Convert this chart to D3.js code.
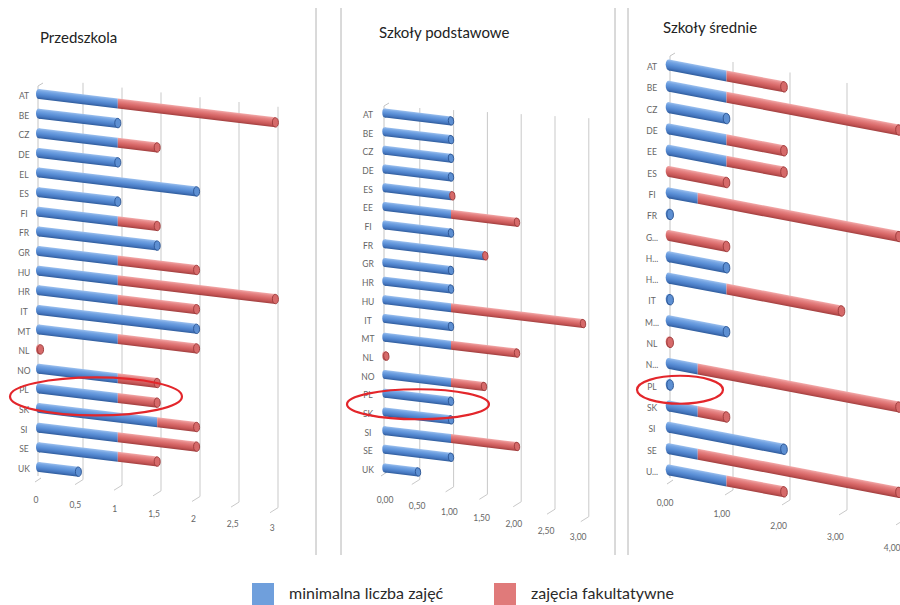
<!DOCTYPE html>
<html lang="pl">
<head>
<meta charset="utf-8">
<script src="https://cdn.jsdelivr.net/npm/d3@7"></script>
<style>
  html, body { margin: 0; padding: 0; background: #fff; }
  svg { display: block; font-family: Lato, "Open Sans", sans-serif; -webkit-font-smoothing: antialiased; }
</style>
</head>
<body>
<svg id="chart" width="900" height="605"></svg>
<script>
// ---- Data: hours per country, two stacked series per school level ----
const seriesNames = ["minimalna liczba zajęć", "zajęcia fakultatywne"];

const preschoolCountries = ["AT","BE","CZ","DE","EL","ES","FI","FR","GR","HU","HR","IT","MT","NL","NO","PL","SK","SI","SE","UK"];
const preschoolMinimum   = [1, 1, 1, 1, 2, 1, 1, 1.5, 1, 1, 1, 2, 1, 0, 1, 1, 1.5, 1, 1, 0.5];
const preschoolOptional  = [2, 0, 0.5, 0, 0, 0, 0.5, 0, 1, 2, 1, 0, 1, 0.02, 0.5, 0.5, 0.5, 1, 0.5, 0];
const preschoolTicks     = [0, 0.5, 1, 1.5, 2, 2.5, 3];
const preschoolTickText  = ["0", "0,5", "1", "1,5", "2", "2,5", "3"];

const primaryCountries = ["AT","BE","CZ","DE","ES","EE","FI","FR","GR","HR","HU","IT","MT","NL","NO","PL","SK","SI","SE","UK"];
const primaryMinimum   = [1, 1, 1, 1, 1, 1, 1, 1.5, 1, 1, 1, 1, 1, 0, 1, 1, 1, 1, 1, 0.5];
const primaryOptional  = [0, 0, 0, 0, 0.02, 1, 0, 0.02, 0, 0, 2, 0, 1, 0.02, 0.5, 0, 0, 1, 0, 0];
const primaryTicks     = [0, 0.5, 1, 1.5, 2, 2.5, 3];
const primaryTickText  = ["0,00", "0,50", "1,00", "1,50", "2,00", "2,50", "3,00"];

const secondaryCountries = ["AT","BE","CZ","DE","EE","ES","FI","FR","G...","H...","H...","IT","M...","NL","N...","PL","SK","SI","SE","U..."];
const secondaryMinimum   = [1, 1, 1, 1, 1, 0, 0.5, 0.02, 0, 1, 1, 0.02, 1, 0, 0.5, 0.02, 0.5, 2, 0.5, 1];
const secondaryOptional  = [1, 3, 0, 1, 1, 1, 3.5, 0, 1, 0, 2, 0, 0, 0.02, 3.5, 0, 0.5, 0, 3.5, 1];
const secondaryTicks     = [0, 1, 2, 3, 4];
const secondaryTickText  = ["0,00", "1,00", "2,00", "3,00", "4,00"];

// Country singled out with a ring in every panel
const highlighted = "PL";

// ---- Layout of the three perspective panels ----
const panels = [
  { title: "Przedszkola", titleX: 40, titleY: 43,
    countries: preschoolCountries, minimum: preschoolMinimum, optional: preschoolOptional,
    ticks: preschoolTicks, tickText: preschoolTickText, gridFrom: 0.5,
    x0: 39, unit: 78.8, rowY0: 94, rowY1: 467, slope: 0.12, h: 10, labelX: 24,
    gx0: 44, gunit: 78, gTop0: 78, gTopSlope: 0.123, gBot0: 474, gBotSlope: 0.144,
    wallX: 38, wallTop: 83, wallBot: 476,
    tx0: 36, tunit: 78.7, ty0: 500, tSlope: 0.12,
    ring: { cx: 96, dy: 8, rx: 86, ry: 19 } },
  { title: "Szkoły podstawowe", titleX: 379, titleY: 38,
    countries: primaryCountries, minimum: primaryMinimum, optional: primaryOptional,
    ticks: primaryTicks, tickText: primaryTickText, gridFrom: 0.5,
    x0: 385, unit: 66, rowY0: 113, rowY1: 468, slope: 0.12, h: 9, labelX: 368,
    gx0: 386, gunit: 67.6, gTop0: 106, gTopSlope: 0.06, gBot0: 472, gBotSlope: 0.22,
    wallX: 384, wallTop: 103, wallBot: 470,
    tx0: 385, tunit: 64.4, ty0: 500, tSlope: 0.19,
    ring: { cx: 418, dy: 11, rx: 71, ry: 15 } },
  { title: "Szkoły średnie", titleX: 663, titleY: 33,
    countries: secondaryCountries, minimum: secondaryMinimum, optional: secondaryOptional,
    ticks: secondaryTicks, tickText: secondaryTickText, gridFrom: 1,
    x0: 669, unit: 57.5, rowY0: 65, rowY1: 470, slope: 0.19, h: 11, labelX: 652,
    gx0: 676, gunit: 57, gTop0: 51.5, gTopSlope: 0.184, gBot0: 480, gBotSlope: 0.175,
    wallX: 670, wallTop: 53, wallBot: 478,
    tx0: 665, tunit: 56.8, ty0: 503, tSlope: 0.2,
    ring: { cx: 680, dy: 5, rx: 43, ry: 14 } }
];

const svg = d3.select("#chart");
const defs = svg.append("defs");

// Cylinder shading: vertical gradient across the bar thickness
const palettes = {
  blue: { stops: ["#9cc0ee", "#74a4e3", "#5a8fd6", "#4677bf", "#2f5c9c"], cap: "#5d8fd2", rim: "#2c5593" },
  red:  { stops: ["#f2aaaa", "#e68585", "#d96a6a", "#c45555", "#a13f3f"], cap: "#d66a6a", rim: "#9c3b3b" }
};
Object.entries(palettes).forEach(([name, p]) => {
  const g = defs.append("linearGradient").attr("id", "cyl-" + name)
    .attr("x1", 0).attr("y1", 0).attr("x2", 0).attr("y2", 1);
  [0, 0.22, 0.5, 0.78, 1].forEach((o, i) =>
    g.append("stop").attr("offset", o).attr("stop-color", p.stops[i]));
});
const seriesColor = d3.scaleOrdinal().domain(seriesNames).range(["blue", "red"]);

// Panel separators
[[316, 341], [615, 628]].forEach(pair => pair.forEach(x =>
  svg.append("line").attr("x1", x).attr("x2", x).attr("y1", 8).attr("y2", 555)
    .attr("stroke", "#b4b4b4").attr("stroke-width", 1)));

const deg = s => Math.atan(s) * 180 / Math.PI;

panels.forEach(p => {
  const g = svg.append("g");

  const x = d3.scaleLinear().domain([0, 1]).range([p.x0, p.x0 + p.unit]);
  const gx = d3.scaleLinear().domain([0, 1]).range([p.gx0, p.gx0 + p.gunit]);
  const tx = d3.scaleLinear().domain([0, 1]).range([p.tx0, p.tx0 + p.tunit]);
  // rows are keyed by position, since some truncated labels repeat
  const y = d3.scalePoint().domain(d3.range(p.countries.length)).range([p.rowY0, p.rowY1]);

  // title
  g.append("text").attr("x", p.titleX).attr("y", p.titleY)
    .attr("font-size", 15).attr("fill", "#222").text(p.title);

  // back-wall gridlines with floor ticks
  const gridVals = p.ticks.filter(v => v >= p.gridFrom);
  gridVals.forEach(v => {
    const xv = gx(v);
    const top = p.gTop0 + p.gTopSlope * (xv - p.gx0);
    const bot = p.gBot0 + p.gBotSlope * (xv - p.gx0);
    g.append("line").attr("x1", xv).attr("x2", xv).attr("y1", top).attr("y2", bot)
      .attr("stroke", "#c9c9c9").attr("stroke-width", 1);
    g.append("line").attr("x1", xv).attr("y1", bot).attr("x2", xv - 8).attr("y2", bot + 5)
      .attr("stroke", "#c9c9c9").attr("stroke-width", 1);
  });

  // side wall at zero
  g.append("path")
    .attr("d", `M${p.wallX},${p.wallBot} L${p.wallX},${p.wallTop + 3} L${p.wallX + 5},${p.wallTop}`)
    .attr("fill", "none").attr("stroke", "#c4c4c4").attr("stroke-width", 1);
  g.append("line").attr("x1", p.wallX + 3).attr("y1", p.wallBot + 2)
    .attr("x2", p.wallX - 3).attr("y2", p.wallBot + 6)
    .attr("stroke", "#c4c4c4").attr("stroke-width", 1);

  // value tick labels along the sloping floor
  p.ticks.forEach((v, i) => {
    const xv = tx(v);
    g.append("text").attr("x", xv).attr("y", p.ty0 + p.tSlope * (xv - p.tx0) + 3)
      .attr("text-anchor", "middle").attr("font-size", 8.5).attr("fill", "#666")
      .text(p.tickText[i]);
  });

  // category labels
  p.countries.forEach((c, i) => {
    g.append("text").attr("x", p.labelX).attr("y", y(i) + 5)
      .attr("text-anchor", "middle").attr("font-size", 8.5).attr("fill", "#666")
      .text(c);
  });

  // stacked cylinders, one skewed group per row
  const rx = p.h * 0.3;
  p.countries.forEach((c, i) => {
    const parts = [
      { name: seriesNames[0], a: 0, b: p.minimum[i] },
      { name: seriesNames[1], a: p.minimum[i], b: p.minimum[i] + p.optional[i] }
    ].filter(s => s.b > s.a);
    if (!parts.length) return;

    const row = g.append("g")
      .attr("transform", `translate(${p.x0},${y(i)}) skewY(${deg(p.slope)})`);
    const lx = v => x(v) - p.x0;

    // rounded near end
    const first = parts[0];
    row.append("ellipse").attr("cx", lx(first.a)).attr("cy", 0)
      .attr("rx", rx).attr("ry", p.h / 2)
      .attr("fill", `url(#cyl-${seriesColor(first.name)})`);

    parts.forEach(s => {
      row.append("rect").attr("x", lx(s.a)).attr("y", -p.h / 2)
        .attr("width", Math.max(lx(s.b) - lx(s.a), 0.5)).attr("height", p.h)
        .attr("fill", `url(#cyl-${seriesColor(s.name)})`);
    });

    // end cap of the whole stack
    const last = parts[parts.length - 1];
    const pal = palettes[seriesColor(last.name)];
    row.append("ellipse").attr("cx", lx(last.b)).attr("cy", 0)
      .attr("rx", rx).attr("ry", p.h / 2 - 0.3)
      .attr("fill", pal.cap).attr("stroke", pal.rim).attr("stroke-width", 0.9);
  });

  // ring around the highlighted country
  const hi = p.countries.indexOf(highlighted);
  if (hi >= 0) {
    g.append("ellipse").attr("cx", p.ring.cx).attr("cy", y(hi) + p.ring.dy)
      .attr("rx", p.ring.rx).attr("ry", p.ring.ry)
      .attr("fill", "none").attr("stroke", "#e3262b").attr("stroke-width", 2.2);
  }
});

// ---- Legend ----
const legend = svg.append("g");
const legendX = [252, 494];
seriesNames.forEach((name, i) => {
  legend.append("rect").attr("x", legendX[i]).attr("y", 583)
    .attr("width", 22).attr("height", 22)
    .attr("fill", i === 0 ? "#6f9fdc" : "#e07a7a");
  legend.append("text").attr("x", legendX[i] + 37).attr("y", 599)
    .attr("font-size", 16).attr("fill", "#2a2a2a").text(name);
});
</script>
</body>
</html>
